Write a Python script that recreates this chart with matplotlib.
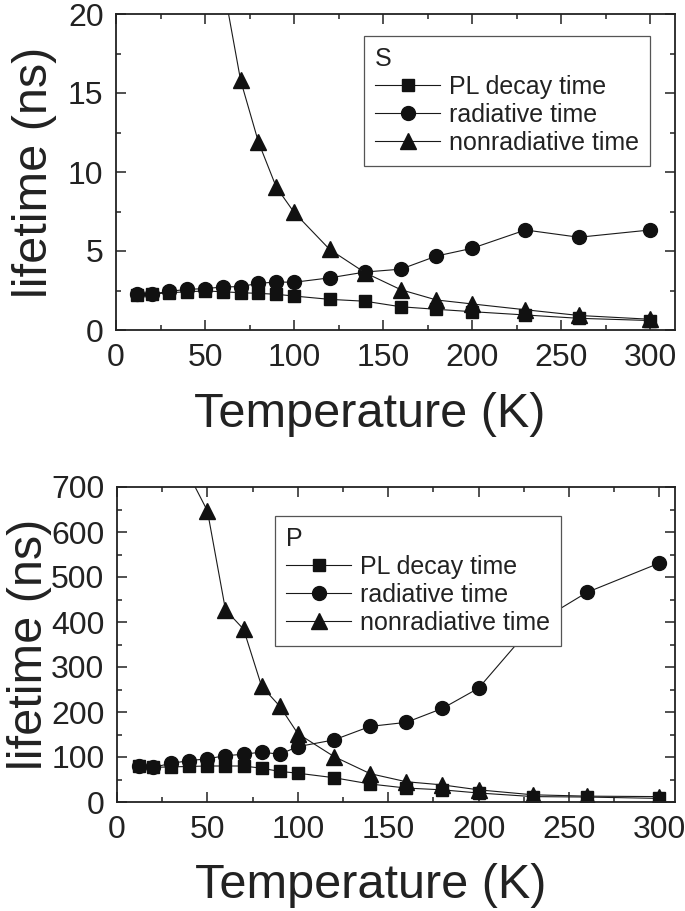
import matplotlib
matplotlib.use('Agg')
import matplotlib.pyplot as plt
from matplotlib.ticker import MultipleLocator

plt.rcParams['font.family'] = ['Liberation Sans', 'DejaVu Sans']

# ---------------- data: S (top panel, ns) ----------------
temp_s = [12, 20, 30, 40, 50, 60, 70, 80, 90, 100, 120, 140, 160, 180, 200, 230, 260, 300]
pl_s = [2.24, 2.27, 2.36, 2.42, 2.47, 2.42, 2.36, 2.32, 2.26, 2.15, 1.94, 1.82, 1.47, 1.31, 1.16, 0.95, 0.74, 0.60]
rad_s = [2.25, 2.27, 2.45, 2.57, 2.62, 2.72, 2.75, 2.95, 3.04, 3.02, 3.30, 3.67, 3.85, 4.68, 5.17, 6.33, 5.87, 6.33]
temp_nr_s = [60, 70, 80, 90, 100, 120, 140, 160, 180, 200, 230, 260, 300]
nr_s = [22.0, 15.8, 11.9, 9.05, 7.45, 5.1, 3.62, 2.55, 1.9, 1.65, 1.28, 0.92, 0.68]

# ---------------- data: P (bottom panel, ns) ----------------
temp_p = [12, 20, 30, 40, 50, 60, 70, 80, 90, 100, 120, 140, 160, 180, 200, 230, 260, 300]
pl_p = [80, 77, 78, 79, 80, 80, 80, 75, 68, 64, 54, 40, 31, 27, 20, 12, 11, 8]
rad_p = [80, 77, 86, 92, 96, 103, 106, 111, 106, 123, 138, 168, 177, 208, 253, 393, 466, 531]
temp_nr_p = [40, 50, 60, 70, 80, 90, 100, 120, 140, 160, 180, 200, 230, 260, 300]
nr_p = [725, 647, 427, 384, 257, 213, 152, 101, 63, 45, 38, 27, 16, 13, 12]

labels = ['PL decay time', 'radiative time', 'nonradiative time']
xlabel = 'Temperature (K)'
ylabel = 'lifetime (ns)'

W, H = 685, 911
fig = plt.figure(figsize=(W / 100, H / 100), dpi=100)
ax1 = fig.add_axes([116 / W, 1 - 330 / H, 559 / W, 316 / H])
ax2 = fig.add_axes([117 / W, 1 - 802 / H, 558 / W, 315 / H])

LC = '#1a1a1a'
line_kw = dict(color=LC, lw=0.8, markerfacecolor='#111111', markeredgecolor='#111111')


def draw(ax, t, pl, rad, tnr, nr):
    ax.plot(t, pl, marker='s', ms=8.5, label=labels[0], **line_kw)
    ax.plot(t, rad, marker='o', ms=10, label=labels[1], **line_kw)
    ax.plot(tnr, nr, marker='^', ms=11, label=labels[2], **line_kw)


def style(ax, xmax, ylim, ymaj, ymin, ylab_x):
    ax.set_xlim(0, xmax)
    ax.set_ylim(*ylim)
    ax.xaxis.set_major_locator(MultipleLocator(50))
    ax.xaxis.set_minor_locator(MultipleLocator(25))
    ax.yaxis.set_major_locator(MultipleLocator(ymaj))
    ax.yaxis.set_minor_locator(MultipleLocator(ymin))
    ax.tick_params(which='both', direction='in', top=True, right=True,
                   width=1.1, color='#222222', labelcolor='#222222')
    ax.tick_params(which='major', length=7, labelsize=23, pad=9)
    ax.tick_params(which='minor', length=3.6)
    for sp in ax.spines.values():
        sp.set_linewidth(1.3)
        sp.set_color('#222222')
    ax.set_xlabel(xlabel, fontsize=35, color='#222222')
    ax.set_ylabel(ylabel, fontsize=35, color='#222222')
    ax.xaxis.set_label_coords(0.454, -0.195)
    ax.yaxis.set_label_coords(ylab_x, 0.5)


def legend(ax, title, x0, y0):
    lg = ax.legend(title=title, loc='upper left', bbox_to_anchor=(x0 / W, 1 - y0 / H),
                   bbox_transform=fig.transFigure, fontsize=18, title_fontsize=18,
                   alignment='left', frameon=True, fancybox=False, framealpha=1,
                   edgecolor='#555555', borderpad=0.45, handlelength=2.6,
                   handletextpad=0.35, labelspacing=0.15, borderaxespad=0,
                   numpoints=1)
    lg.get_frame().set_linewidth(0.9)
    for txt in lg.get_texts():
        txt.set_color('#222222')
    lg.get_title().set_color('#222222')


draw(ax1, temp_s, pl_s, rad_s, temp_nr_s, nr_s)
style(ax1, 314, (0, 20), 5, 2.5, -0.105)
legend(ax1, 'S', 364, 36)

draw(ax2, temp_p, pl_p, rad_p, temp_nr_p, nr_p)
style(ax2, 308.6, (0, 700), 100, 50, -0.116)
legend(ax2, 'P', 275, 516)

fig.savefig('out.png', dpi=100)
